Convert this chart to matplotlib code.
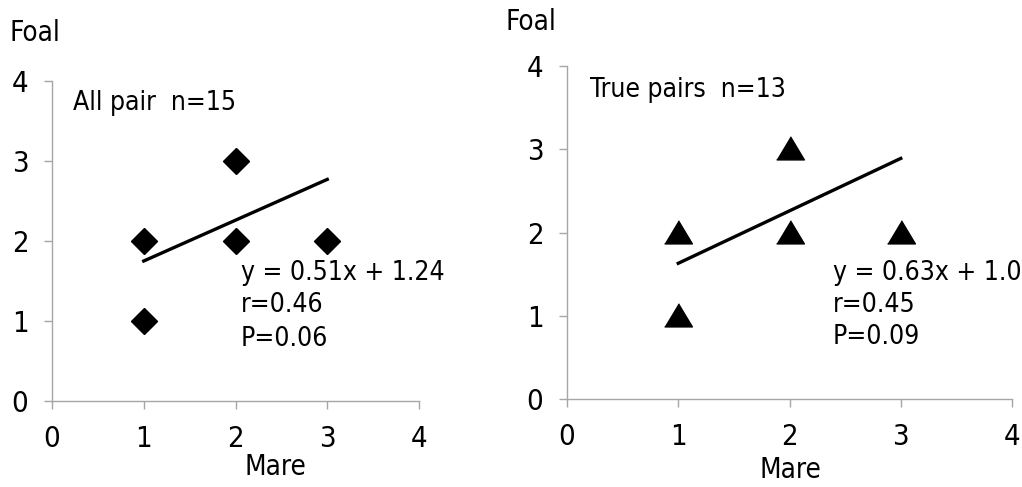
import matplotlib
matplotlib.use("Agg")
import matplotlib.pyplot as plt

plt.rcParams['font.family'] = ['DejaVu Sans']
plt.rcParams['font.stretch'] = 'condensed'

# data
mare = [1, 1, 2, 2, 3]
foal = [2, 1, 3, 2, 2]
fit_x = [1, 3]
all_slope, all_icpt = 0.51, 1.24
true_slope, true_icpt = 0.63, 1.0
ticks = [0, 1, 2, 3, 4]
all_lines = ["y = 0.51x + 1.24", "r=0.46", "P=0.06"]
true_lines = ["y = 0.63x + 1.0", "r=0.45", "P=0.09"]

fig = plt.figure(figsize=(10.22, 4.87), dpi=100)
W, H = 1022, 487
axL = fig.add_axes([52 / W, 1 - 401 / H, (419 - 52) / W, (401 - 81) / H])
axR = fig.add_axes([567 / W, 1 - 399 / H, (1012 - 567) / W, (399 - 66) / H])

def style(ax):
    ax.set_xlim(0, 4)
    ax.set_ylim(0, 4)
    ax.set_xticks(ticks)
    ax.set_yticks(ticks)
    for s in ['top', 'right']:
        ax.spines[s].set_visible(False)
    for s in ['left', 'bottom']:
        ax.spines[s].set_color('#a6a6a6')
        ax.spines[s].set_linewidth(1.0)
    ax.tick_params(direction='out', length=6, width=1.0, color='#a6a6a6',
                   labelsize=21)
    ax.tick_params(axis='x', pad=11)
    ax.tick_params(axis='y', pad=11)

style(axL)
style(axR)

axL.plot(mare, foal, linestyle='none', marker='D', ms=13, color='black', clip_on=False)
axL.plot(fit_x, [all_slope * x + all_icpt for x in fit_x], color='black', lw=2.4)
axL.text(0.23, 3.72, "All pair  n=15", fontsize=19, va='center', ha='left')
for txt, yy in zip(all_lines, [1.6, 1.2, 0.77]):
    axL.text(2.06, yy, txt, fontsize=19, va='center', ha='left')

tri = [(-1.2, -0.9), (1.2, -0.9), (0, 1.1)]
axR.plot(mare, foal, linestyle='none', marker=tri, ms=20, color='black', clip_on=False)
axR.plot(fit_x, [true_slope * x + true_icpt for x in fit_x], color='black', lw=2.4)
axR.text(0.21, 3.71, "True pairs  n=13", fontsize=19, va='center', ha='left')
for txt, yy in zip(true_lines, [1.51, 1.13, 0.75]):
    axR.text(2.39, yy, txt, fontsize=19, va='center', ha='left')

fig.text(10 / W, 1 - 33 / H, "Foal", fontsize=20, va='center', ha='left')
fig.text(505 / W, 1 - 22 / H, "Foal", fontsize=20, va='center', ha='left')
fig.text(275 / W, 1 - 467 / H, "Mare", fontsize=20, va='center', ha='center')
fig.text(790 / W, 1 - 470 / H, "Mare", fontsize=20, va='center', ha='center')

fig.savefig("out.png", dpi=100)
